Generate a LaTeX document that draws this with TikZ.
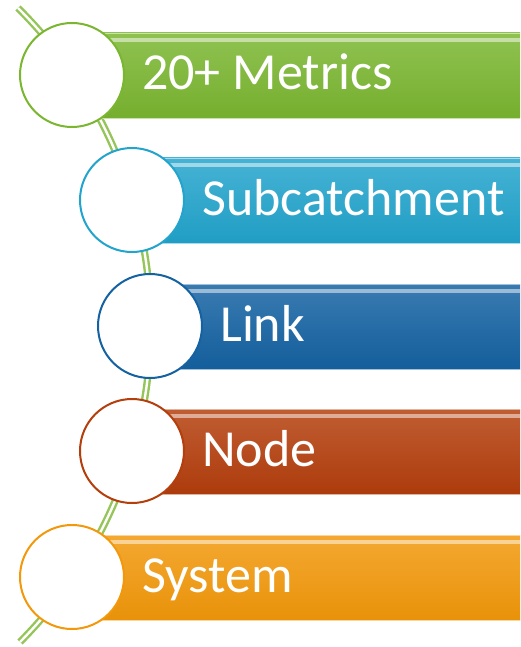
\documentclass[tikz,border=0pt]{standalone}
\usepackage{fontspec}
\setmainfont{Carlito}
\usetikzlibrary{positioning}
\definecolor{vcgreen}{RGB}{122,182,48}
\definecolor{vccyan}{RGB}{34,164,204}
\definecolor{vcblue}{RGB}{20,98,162}
\definecolor{vcrust}{RGB}{180,62,12}
\definecolor{vcorange}{RGB}{242,152,10}
\begin{document}
\begin{tikzpicture}[x=1pt,y=-1pt,
    disc/.style={circle,draw,line width=2pt,fill=white,minimum size=104pt,inner sep=0pt},
    lbl/.style={anchor=base west,inner sep=0pt,text=white,font=\fontsize{52}{60}\selectfont},
    spine/.style={draw=vcgreen!80!white,line width=2.4pt,double=white,double distance=2.4pt}]
  \useasboundingbox (0,0) rectangle (520,647);
  % the green spine behind the discs
  \coordinate (top) at (18,8);
  \coordinate (bot) at (20,642);
  \draw[spine] (top) to[bend left=45] (bot);
  \foreach \i/\cx/\cy/\col/\txt in {1/72/75/vcgreen/20+ Metrics,2/132/200/vccyan/Subcatchment,
      3/150/326/vcblue/Link,4/132/451/vcrust/Node,5/72/577/vcorange/System}{
    \shade[top color=\col!84!white,bottom color=\col!96!black] (\cx,\cy-42) rectangle (520,\cy+43);
    \draw[\col!40!white,line width=.8pt] (\cx,\cy-42) -- (520,\cy-42) (\cx,\cy+43) -- (520,\cy+43);
    \fill[white,opacity=.5] (\cx,\cy-37) rectangle (520,\cy-33);
    \node[disc,draw=\col] (c\i) at (\cx,\cy) {};
    \node[lbl] (t\i) at (\cx+70,\cy+15) {\txt};
  }
\end{tikzpicture}
\end{document}
